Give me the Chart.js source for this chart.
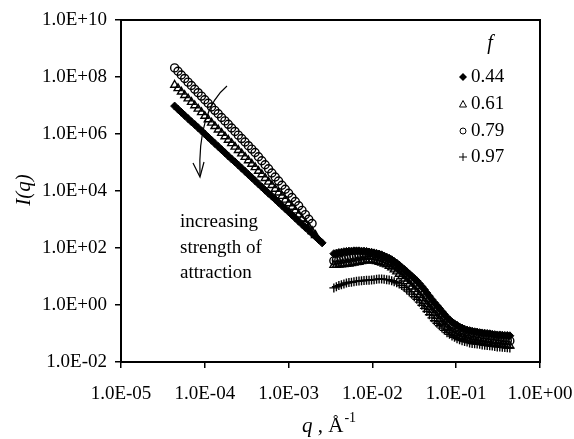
<!DOCTYPE html>
<html><head><meta charset="utf-8">
<script src="https://cdn.jsdelivr.net/npm/chart.js@4"></script>
<style>html,body{margin:0;padding:0;background:#fff}</style>
</head><body>
<canvas id="c" width="574" height="439"></canvas>
<script>
// ---- data (log10 values) ----
const seriesLabels = ['0.44', '0.61', '0.79', '0.97'];

const logQLow = [-4.36,-4.32,-4.28,-4.24,-4.20,-4.16,-4.12,-4.08,-4.04,-4.00,-3.96,-3.92,-3.88,-3.84,-3.80,-3.76,-3.72,-3.68,-3.64,-3.60,-3.56,-3.52,-3.48,-3.44,-3.40,-3.36,-3.32,-3.28,-3.24,-3.20,-3.16,-3.12,-3.08,-3.04,-3.00,-2.96,-2.92,-2.88,-2.84,-2.80,-2.76,-2.72,-2.68,-2.64,-2.60];
const logI044Low = [6.98,6.87,6.76,6.65,6.54,6.43,6.33,6.22,6.11,6.00,5.89,5.78,5.67,5.56,5.45,5.34,5.23,5.12,5.02,4.91,4.80,4.69,4.58,4.47,4.36,4.25,4.14,4.03,3.92,3.82,3.71,3.60,3.49,3.38,3.27,3.16,3.05,2.94,2.83,2.72,2.62,2.51,2.40,2.29,2.18];
const logI061Low = [7.72,7.60,7.48,7.36,7.24,7.12,7.00,6.88,6.76,6.63,6.51,6.39,6.27,6.15,6.03,5.91,5.79,5.67,5.55,5.43,5.31,5.19,5.07,4.95,4.83,4.70,4.58,4.45,4.32,4.20,4.07,3.94,3.82,3.69,3.56,3.44,3.31,3.17,3.02,2.88,2.74,2.59,2.45];
const logI079Low = [8.32,8.20,8.07,7.95,7.82,7.70,7.57,7.45,7.33,7.20,7.08,6.95,6.83,6.71,6.58,6.46,6.34,6.21,6.09,5.96,5.84,5.72,5.59,5.47,5.35,5.20,5.06,4.92,4.78,4.63,4.49,4.35,4.20,4.06,3.92,3.77,3.63,3.48,3.32,3.17,3.01,2.86];

const logQHigh = [-2.46,-2.43,-2.40,-2.37,-2.34,-2.31,-2.28,-2.25,-2.22,-2.19,-2.16,-2.13,-2.10,-2.07,-2.04,-2.01,-1.98,-1.95,-1.92,-1.89,-1.86,-1.83,-1.80,-1.77,-1.74,-1.71,-1.68,-1.65,-1.62,-1.59,-1.56,-1.53,-1.50,-1.47,-1.44,-1.41,-1.38,-1.35,-1.32,-1.29,-1.26,-1.23,-1.20,-1.17,-1.14,-1.11,-1.08,-1.05,-1.02,-0.99,-0.96,-0.93,-0.90,-0.87,-0.84,-0.81,-0.78,-0.75,-0.72,-0.69,-0.66,-0.63,-0.60,-0.57,-0.54,-0.51,-0.48,-0.45,-0.42,-0.39,-0.36];
const logI044High = [1.80,1.82,1.84,1.85,1.87,1.88,1.89,1.89,1.90,1.90,1.90,1.89,1.89,1.88,1.86,1.85,1.83,1.81,1.79,1.76,1.72,1.68,1.64,1.59,1.53,1.47,1.40,1.32,1.25,1.17,1.09,1.01,0.93,0.85,0.75,0.65,0.54,0.42,0.31,0.19,0.08,-0.02,-0.12,-0.23,-0.33,-0.44,-0.52,-0.60,-0.66,-0.71,-0.77,-0.81,-0.85,-0.88,-0.90,-0.92,-0.94,-0.95,-0.97,-0.98,-0.99,-1.00,-1.01,-1.03,-1.04,-1.05,-1.05,-1.06,-1.07,-1.07,-1.08];
const logI061High = [1.40,1.40,1.41,1.42,1.43,1.44,1.45,1.46,1.48,1.50,1.51,1.53,1.55,1.56,1.57,1.57,1.55,1.53,1.51,1.48,1.45,1.42,1.37,1.31,1.24,1.17,1.09,1.01,0.92,0.83,0.74,0.64,0.55,0.45,0.35,0.24,0.13,0.02,-0.08,-0.19,-0.29,-0.39,-0.50,-0.60,-0.69,-0.79,-0.87,-0.94,-0.99,-1.04,-1.09,-1.13,-1.16,-1.19,-1.21,-1.23,-1.25,-1.27,-1.28,-1.30,-1.31,-1.32,-1.34,-1.35,-1.36,-1.37,-1.38,-1.40,-1.41,-1.42,-1.43];
const logI079High = [1.55,1.57,1.59,1.61,1.63,1.65,1.67,1.68,1.70,1.71,1.72,1.73,1.73,1.74,1.75,1.74,1.72,1.71,1.69,1.66,1.63,1.59,1.55,1.49,1.43,1.36,1.29,1.21,1.12,1.04,0.95,0.87,0.78,0.69,0.59,0.48,0.36,0.24,0.13,0.02,-0.10,-0.20,-0.31,-0.41,-0.51,-0.60,-0.68,-0.76,-0.81,-0.87,-0.92,-0.96,-0.99,-1.02,-1.05,-1.08,-1.10,-1.12,-1.14,-1.15,-1.17,-1.18,-1.19,-1.21,-1.22,-1.23,-1.23,-1.24,-1.25,-1.25,-1.26];
const logI097High = [0.60,0.64,0.68,0.71,0.74,0.77,0.79,0.80,0.82,0.83,0.84,0.85,0.86,0.87,0.87,0.88,0.89,0.90,0.91,0.91,0.90,0.89,0.88,0.85,0.82,0.78,0.74,0.68,0.61,0.53,0.46,0.38,0.29,0.20,0.10,-0.01,-0.12,-0.23,-0.34,-0.45,-0.55,-0.64,-0.73,-0.81,-0.89,-0.97,-1.03,-1.09,-1.13,-1.18,-1.22,-1.25,-1.28,-1.30,-1.33,-1.35,-1.36,-1.37,-1.38,-1.40,-1.41,-1.42,-1.43,-1.44,-1.46,-1.47,-1.47,-1.48,-1.49,-1.50,-1.51];

const xTickValues = [1e-5, 1e-4, 1e-3, 1e-2, 1e-1, 1];
const xTickLabels = ['1.0E-05','1.0E-04','1.0E-03','1.0E-02','1.0E-01','1.0E+00'];
const yTickValues = [1e-2, 1, 1e2, 1e4, 1e6, 1e8, 1e10];
const yTickLabels = ['1.0E-02','1.0E+00','1.0E+02','1.0E+04','1.0E+06','1.0E+08','1.0E+10'];

// ---- build points ----
function pts(lq, li) {
  const n = Math.min(lq.length, li.length), out = [];
  for (let i = 0; i < n; i++) out.push({ x: Math.pow(10, lq[i]), y: Math.pow(10, li[i]) });
  return out;
}

const serif = "'Liberation Serif', 'Times New Roman', serif";
const datasets = [
  { label: seriesLabels[0], data: pts(logQLow, logI044Low).concat(pts(logQHigh, logI044High)),
    pointStyle: 'rectRot', radius: 4, backgroundColor: '#000', borderColor: '#000', borderWidth: 1 },
  { label: seriesLabels[1], data: pts(logQLow, logI061Low).concat(pts(logQHigh, logI061High)),
    pointStyle: 'triangle', radius: 4.5, backgroundColor: 'rgba(0,0,0,0)', borderColor: '#000', borderWidth: 1.4 },
  { label: seriesLabels[2], data: pts(logQLow, logI079Low).concat(pts(logQHigh, logI079High)),
    pointStyle: 'circle', radius: 4, backgroundColor: 'rgba(0,0,0,0)', borderColor: '#000', borderWidth: 1.4 },
  { label: seriesLabels[3], data: pts(logQHigh, logI097High),
    pointStyle: 'cross', radius: 4.5, backgroundColor: '#000', borderColor: '#000', borderWidth: 1.4 }
];

function legendMarker(ctx, style, x, y) {
  ctx.save();
  ctx.strokeStyle = '#000'; ctx.fillStyle = '#000'; ctx.lineWidth = 1;
  ctx.beginPath();
  if (style === 'rectRot') {
    ctx.moveTo(x, y - 4); ctx.lineTo(x + 4, y); ctx.lineTo(x, y + 4); ctx.lineTo(x - 4, y); ctx.closePath(); ctx.fill();
  } else if (style === 'triangle') {
    ctx.moveTo(x, y - 3.5); ctx.lineTo(x + 3.5, y + 3); ctx.lineTo(x - 3.5, y + 3); ctx.closePath(); ctx.stroke();
  } else if (style === 'circle') {
    ctx.arc(x, y, 3, 0, Math.PI * 2); ctx.stroke();
  } else {
    ctx.moveTo(x - 4, y); ctx.lineTo(x + 4, y); ctx.moveTo(x, y - 4); ctx.lineTo(x, y + 4); ctx.stroke();
  }
  ctx.restore();
}

const decor = {
  id: 'decor',
  afterDraw(chart) {
    const ctx = chart.ctx, a = chart.chartArea;
    ctx.save();
    // frame
    ctx.strokeStyle = '#000'; ctx.lineWidth = 2;
    ctx.strokeRect(a.left, a.top, a.right - a.left, a.bottom - a.top);
    ctx.fillStyle = '#000';
    // y title
    ctx.save();
    ctx.translate(24, 190); ctx.rotate(-Math.PI / 2);
    ctx.font = 'italic 21px ' + serif; ctx.textAlign = 'center'; ctx.textBaseline = 'middle';
    ctx.fillText('I(q)', 0, 0);
    ctx.restore();
    // x title
    ctx.textBaseline = 'alphabetic'; ctx.textAlign = 'left';
    let x = 302, yb = 432;
    ctx.font = 'italic 21px ' + serif; ctx.fillText('q', x, yb); x += ctx.measureText('q').width;
    ctx.font = '21px ' + serif; ctx.fillText(' , Å', x, yb); x += ctx.measureText(' , Å').width;
    ctx.font = '14px ' + serif; ctx.fillText('-1', x + 1, yb - 10);
    // legend
    ctx.font = 'italic 20px ' + serif; ctx.textAlign = 'center'; ctx.textBaseline = 'middle';
    ctx.fillText('f', 490, 44);
    ctx.font = '19px ' + serif; ctx.textAlign = 'left';
    const ly = [77, 104, 131, 157];
    datasets.forEach((d, i) => {
      legendMarker(ctx, d.pointStyle, 463, ly[i]);
      ctx.fillText(d.label, 471, ly[i]);
    });
    // annotation text
    ctx.font = '19px ' + serif;
    ctx.fillText('increasing', 180, 222);
    ctx.fillText('strength of', 180, 248);
    ctx.fillText('attraction', 180, 273);
    // curved arrow
    ctx.lineWidth = 1.2;
    ctx.beginPath();
    ctx.moveTo(227, 86);
    ctx.bezierCurveTo(210, 100, 198, 125, 200, 176);
    ctx.stroke();
    ctx.beginPath();
    ctx.moveTo(193, 163); ctx.lineTo(200, 177); ctx.lineTo(204, 162);
    ctx.stroke();
    ctx.restore();
  }
};

const tickFont = { family: serif, size: 19 };
new Chart(document.getElementById('c'), {
  type: 'scatter',
  data: { datasets },
  options: {
    responsive: false, animation: false, devicePixelRatio: 1,
    layout: { padding: { top: 20, right: 34, left: 0, bottom: 0 } },
    plugins: { legend: { display: false }, tooltip: { enabled: false } },
    scales: {
      x: {
        type: 'logarithmic', min: 1e-5, max: 1,
        afterBuildTicks: s => { s.ticks = xTickValues.map(v => ({ value: v })); },
        afterFit: s => { s.height = 77; s.paddingLeft = 0; s.paddingRight = 0; },
        grid: { display: true, drawOnChartArea: false, drawTicks: true, tickLength: 6, color: '#000', lineWidth: 1.5 },
        border: { display: true, color: '#000', width: 2 },
        ticks: { autoSkip: false, maxRotation: 0, minRotation: 0, padding: 15, color: '#000', font: tickFont,
                 callback: (v, i) => xTickLabels[i] }
      },
      y: {
        type: 'logarithmic', min: 1e-2, max: 1e10,
        afterBuildTicks: s => { s.ticks = yTickValues.map(v => ({ value: v })); },
        afterFit: s => { s.width = 121; s.paddingTop = 0; s.paddingBottom = 0; },
        grid: { display: true, drawOnChartArea: false, drawTicks: true, tickLength: 6, color: '#000', lineWidth: 1.5 },
        border: { display: true, color: '#000', width: 2 },
        ticks: { autoSkip: false, padding: 8, color: '#000', font: tickFont,
                 callback: (v, i) => yTickLabels[i] }
      }
    }
  },
  plugins: [decor]
});
</script>
</body></html>
